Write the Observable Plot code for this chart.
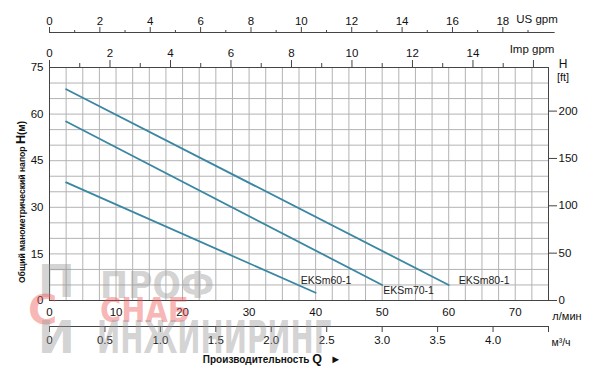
<!DOCTYPE html>
<html><head><meta charset="utf-8">
<script src="https://cdn.jsdelivr.net/npm/d3@7"></script>
<script src="https://cdn.jsdelivr.net/npm/@observablehq/plot@0.6"></script>
<style>
body{margin:0;background:#fff;}
#wrap{position:relative;width:600px;height:373px;font-family:"Liberation Sans",Arial,sans-serif;color:#111;overflow:hidden;}
#wrap svg{position:absolute;left:0;top:0;}
.ov{position:absolute;white-space:nowrap;line-height:1;}
.c{transform:translate(-50%,-50%);}
.wm{position:absolute;white-space:nowrap;line-height:1;font-family:"DejaVu Sans",sans-serif;font-weight:bold;pointer-events:none;}
</style></head><body><div id="wrap"></div>
<script>
// ---- data ----
const series = ["EKSm60-1", "EKSm70-1", "EKSm80-1"];
const flowLpm = [[2.5, 40], [2.5, 50], [2.5, 60]];      // Q, l/min
const headM   = [[38, 2.5], [57.6, 5], [68, 5]];        // H, m
const lpmTicks = [0, 10, 20, 30, 40, 50, 60, 70];
const headTicks = [0, 15, 30, 45, 60, 75];
const ftTicks = [0, 50, 100, 150, 200];
const usGpmMajor = [0, 2, 4, 6, 8, 10, 12, 14, 16, 18];
const usGpmMinor = [1, 3, 5, 7, 9, 11, 13, 15, 17, 19];
const impGpmMajor = [0, 2, 4, 6, 8, 10, 12, 14, 16];
const impGpmMinor = [1, 3, 5, 7, 9, 11, 13, 15];
const m3hTicks = [0, 0.5, 1.0, 1.5, 2.0, 2.5, 3.0, 3.5, 4.0, 4.5];

// unit conversions (to l/min and m)
const LPM_US = 3.78541, LPM_IMP = 4.54609, LPM_M3H = 1000 / 60, FT = 3.28084;

const rows = series.flatMap((s, i) => flowLpm[i].map((q, j) => ({series: s, q, h: headM[i][j]})));
const lastOf = s => rows.filter(r => r.series === s).slice(-1);

const lineColor = "#3a87a2";
const labelStyle = {x: "q", y: "h", text: "series", textAnchor: "start", fontSize: 10.5, fill: "#222"};

const chart = Plot.plot({
  width: 600, height: 373,
  marginLeft: 49, marginRight: 52, marginTop: 67, marginBottom: 73,
  x: {domain: [0, 75], label: null},
  y: {domain: [0, 75], label: null},
  style: {fontFamily: "Liberation Sans, Arial, sans-serif", fontSize: "11px", color: "#111", background: "transparent"},
  marks: [
    Plot.gridX(d3.range(0, 75.01, 2.5), {stroke: "#b3b3b3", strokeOpacity: 1}),
    Plot.gridY(d3.range(0, 75.01, 5), {stroke: "#b3b3b3", strokeOpacity: 1}),
    Plot.frame({stroke: "#444"}),
    // left H (m)
    Plot.axisY(headTicks, {anchor: "left", label: null, tickSize: 0, tickPadding: 6, fontSize: 11.5}),
    // right H (ft)
    Plot.axisY(ftTicks.map(f => f / FT), {anchor: "right", label: null, tickSize: 8, tickPadding: 2, stroke: "#444",
      tickFormat: d => String(Math.round(d * FT)), fontSize: 11.5}),
    // bottom l/min
    Plot.axisX(lpmTicks, {anchor: "bottom", label: null, tickSize: 0, tickPadding: 7, fontSize: 11.5}),
    // bottom m3/h
    Plot.ruleY([0], {dy: 26, stroke: "#444"}),
    Plot.axisX(m3hTicks.map(v => v * LPM_M3H), {anchor: "bottom", label: null, dy: 26, tickSize: 6, tickPadding: 3, stroke: "#444", fontSize: 11.5,
      tickFormat: d => { const v = Math.round(d / LPM_M3H * 10) / 10; return v >= 4.5 ? "" : (v === 0 ? "0" : v.toFixed(1)); }}),
    // top US gpm
    Plot.ruleY([75], {dy: -35, x1: 0, x2: 76, stroke: "#444"}),
    Plot.axisX(usGpmMajor.map(g => g * LPM_US), {anchor: "top", label: null, dy: -35, tickSize: 6, tickPadding: 2, stroke: "#444", fontSize: 11.5,
      tickFormat: d => String(Math.round(d / LPM_US))}),
    Plot.axisX(usGpmMinor.map(g => g * LPM_US), {anchor: "top", label: null, dy: -35, tickSize: 3, tickFormat: () => "", stroke: "#444"}),
    // top Imp gpm (on frame)
    Plot.axisX(impGpmMajor.map(g => g * LPM_IMP), {anchor: "top", label: null, tickSize: 8, tickPadding: 3, stroke: "#444", fontSize: 11.5,
      tickFormat: d => { const v = Math.round(d / LPM_IMP); return v >= 16 ? "" : String(v); }}),
    Plot.axisX(impGpmMinor.map(g => g * LPM_IMP), {anchor: "top", label: null, tickSize: 5, tickFormat: () => "", stroke: "#444"}),
    // curves
    Plot.line(rows, {x: "q", y: "h", z: "series", stroke: lineColor, strokeWidth: 1.8}),
    Plot.text(lastOf("EKSm60-1"), {...labelStyle, dx: -15, dy: -12}),
    Plot.text(lastOf("EKSm70-1"), {...labelStyle, dx: 1, dy: 5.5}),
    Plot.text(lastOf("EKSm80-1"), {...labelStyle, dx: 10, dy: -4.5})
  ]
});
const wrap = document.getElementById("wrap");
wrap.appendChild(chart);

const ov = [
  ['<span style="font-size:11.5px">US gpm</span>', 537, 18],
  ['<span style="font-size:11.5px">Imp gpm</span>', 532, 48],
  ['<span style="font-size:12px">H</span>', 563, 63],
  ['<span style="font-size:11px">[ft]</span>', 563, 76],
  ['<span style="font-size:11px">л/мин</span>', 567, 315],
  ['<span style="font-size:10.5px">м³/ч</span>', 561, 341],
  ['<span style="font-size:10px;font-weight:bold">Производительность <span style="font-size:12.5px">Q</span>&nbsp;&nbsp;&nbsp;<span style="font-size:11px">►</span></span>', 272, 358]
];
for (const [html, x, y] of ov) {
  const d = document.createElement("div");
  d.className = "ov c"; d.style.left = x + "px"; d.style.top = y + "px"; d.innerHTML = html;
  wrap.appendChild(d);
}
const yt = document.createElement("div");
yt.className = "ov";
yt.style.left = "20px"; yt.style.top = "202px";
yt.style.transform = "translate(-50%,-50%) rotate(-90deg)";
yt.innerHTML = '<span style="font-size:8.6px;font-weight:bold">Общий манометрический напор <span style="font-size:12.5px">H</span><span style="font-size:10px">(м)</span></span>';
wrap.appendChild(yt);

// watermark (semi-transparent logo text)
const wm = [
  ["ПРОФ", 100, 266, 38, "rgba(150,150,150,0.42)", 0.88],
  ["СНАБ", 100, 293, 34, "rgba(240,80,80,0.42)", 0.85],
  ["ИНЖИНИРИНГ", 97, 316, 44, "rgba(150,150,150,0.42)", 0.63],
  ["П", 38, 260, 44, "rgba(150,150,150,0.42)", 1],
  ["С", 28, 290, 40, "rgba(240,80,80,0.42)", 1],
  ["И", 38, 316, 44, "rgba(150,150,150,0.42)", 1]
];
for (const [t, x, y, fs, col, sx] of wm) {
  const d = document.createElement("div");
  d.className = "wm"; d.textContent = t;
  d.style.left = x + "px"; d.style.top = y + "px"; d.style.fontSize = fs + "px"; d.style.color = col;
  d.style.transformOrigin = "0 0"; d.style.transform = `scaleX(${sx})`;
  wrap.appendChild(d);
}
</script></body></html>
